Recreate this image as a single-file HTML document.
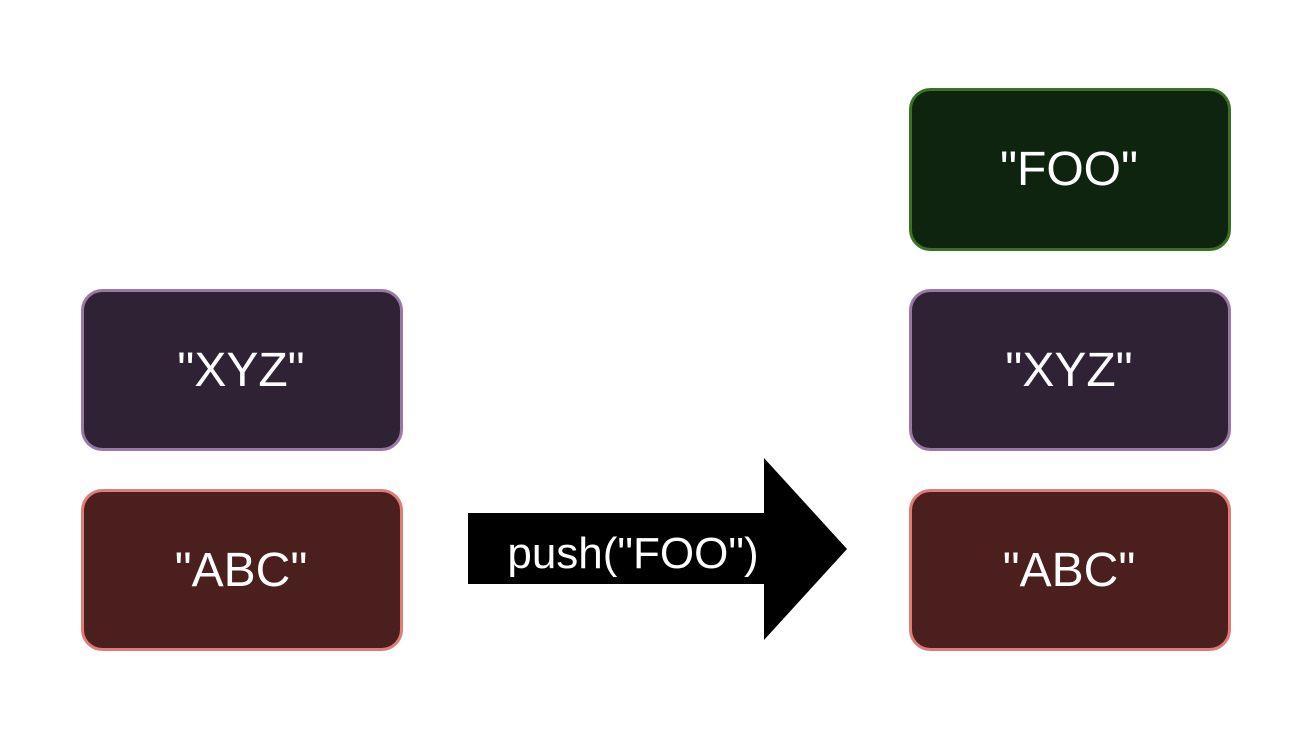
<!DOCTYPE html>
<html><head><meta charset="utf-8"><style>
html,body{margin:0;padding:0;background:#fff;}
</style></head><body>
<svg width="1316" height="736" xmlns="http://www.w3.org/2000/svg" style="display:block">
<g font-family="Liberation Sans, Arial, sans-serif" font-size="48" fill="#fff" text-anchor="middle">
<rect x="82.5" y="290.5" width="319" height="159" rx="20" fill="#2f2235" stroke="#9b77a8" stroke-width="3"/>
<text x="241" y="386">"XYZ"</text>
<rect x="82.5" y="490.5" width="319" height="159" rx="20" fill="#4a1f1e" stroke="#e07b77" stroke-width="3"/>
<text x="241" y="586">"ABC"</text>
<rect x="910.5" y="89.5" width="319" height="160" rx="20" fill="#0f240f" stroke="#3b7025" stroke-width="3"/>
<text x="1069" y="185">"FOO"</text>
<rect x="910.5" y="290.5" width="319" height="159" rx="20" fill="#2f2235" stroke="#9b77a8" stroke-width="3"/>
<text x="1069" y="386">"XYZ"</text>
<rect x="910.5" y="490.5" width="319" height="159" rx="20" fill="#4a1f1e" stroke="#e07b77" stroke-width="3"/>
<text x="1069" y="586">"ABC"</text>
<polygon points="468,513 764,513 764,458 847,549 764,640 764,584 468,584" fill="#000"/>
<text x="633" y="568" font-size="44">push("FOO")</text>
</g>
</svg>
</body></html>
